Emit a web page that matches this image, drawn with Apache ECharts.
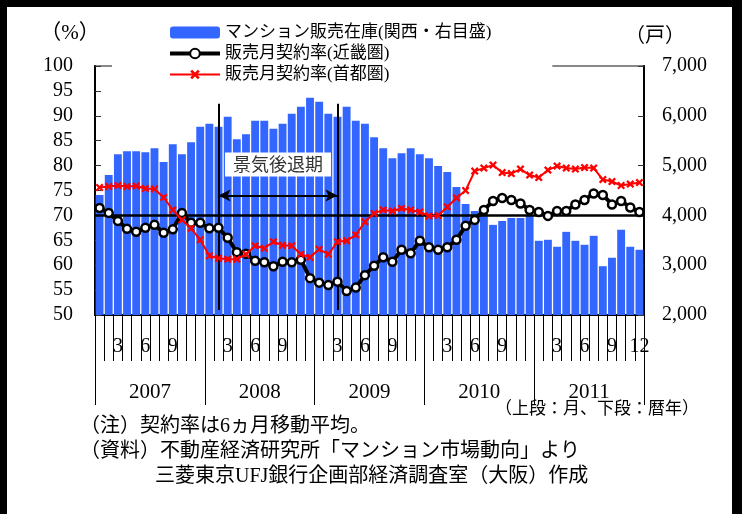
<!DOCTYPE html>
<html>
<head>
<meta charset="utf-8">
<script src="https://cdn.jsdelivr.net/npm/echarts@6.0.0/dist/echarts.min.js"></script>
<style>
    html, body { margin: 0; padding: 0; background: #fff; }
    #chart { width: 742px; height: 514px; background: #fff; }
</style>
</head>
<body>
<div id="chart"></div>
<script>
// 暦年（下段）
var years = ['2007', '2008', '2009', '2010', '2011'];
// 月（上段）
var monthLabels = [
    '', '', '3', '', '', '6', '', '', '9', '', '', '',
    '', '', '3', '', '', '6', '', '', '9', '', '', '',
    '', '', '3', '', '', '6', '', '', '9', '', '', '',
    '', '', '3', '', '', '6', '', '', '9', '', '', '',
    '', '', '3', '', '', '6', '', '', '9', '', '', '12'
];
// マンション販売在庫（関西・戸）
var stock = [
    4410, 4810, 5230, 5290, 5290, 5270, 5350, 5070, 5430, 5230, 5470, 5780,
    5840, 5780, 5980, 5530, 5630, 5900, 5900, 5740, 5840, 6040, 6180, 6360,
    6280, 6040, 5980, 6180, 5900, 5840, 5570, 5350, 5150, 5250, 5350, 5230,
    5150, 4990, 4870, 4570, 4230, 4090, 4050, 3810, 3890, 3950, 3950, 4000,
    3490, 3510, 3370, 3670, 3490, 3410, 3590, 2980, 3150, 3710, 3370, 3310
];
// 販売月契約率（近畿圏・%）
var kinki = [
    71.5, 70.5, 68.9, 67.3, 66.7, 67.5, 68.1, 66.5, 67.2, 70.5, 68.5, 68.5,
    67.4, 67.5, 65.5, 62.6, 62.3, 60.9, 60.6, 59.8, 60.7, 60.6, 61.1, 57.4,
    56.5, 56.0, 56.7, 54.8, 55.5, 58.0, 59.9, 61.6, 60.7, 63.1, 62.4, 64.9,
    63.6, 63.1, 63.6, 65.1, 67.9, 69.1, 71.1, 72.9, 73.5, 73.1, 72.4, 71.1,
    70.7, 69.9, 70.9, 70.9, 72.2, 73.1, 74.4, 74.1, 72.2, 72.9, 71.6, 70.7
];
// 販売月契約率（首都圏・%）
var shutoken = [
    75.6, 75.8, 76.0, 75.8, 75.9, 75.4, 75.3, 73.6, 71.1, 69.1, 67.4, 65.1,
    61.9, 61.4, 61.2, 61.2, 62.2, 63.9, 63.4, 64.7, 64.0, 63.9, 62.2, 61.6,
    63.2, 62.2, 64.7, 64.9, 66.1, 68.7, 70.4, 71.1, 70.9, 71.4, 71.1, 70.7,
    69.9, 70.0, 71.7, 73.5, 75.0, 78.9, 79.5, 80.1, 78.6, 78.4, 79.3, 78.1,
    77.6, 79.1, 79.9, 79.5, 79.3, 79.6, 79.5, 77.2, 76.8, 76.0, 76.3, 76.6
];
// 景気後退期（月の番号：2008年2月〜2009年3月）
var recession = [13, 26];
var recessionSpan = [51, 92.4];   // 縦線の上下（左目盛）
var arrowLevel = 74;
var baseLine = 70;

var SERIF = "'Liberation Serif', 'Noto Sans CJK JP', serif";
var CJK = "'Noto Sans CJK JP', sans-serif";
var X_MARK = 'path://M0,2L2,0L5,3L8,0L10,2L7,5L10,8L8,10L5,7L2,10L0,8L3,5Z';

// カテゴリ（年-月）
var months = monthLabels.map(function(m, i) {
    return years[Math.floor(i / 12)] + '-' + (i % 12 + 1);
});

var option = {
    animation: false,
    backgroundColor: '#fff',
    textStyle: { fontFamily: SERIF },
    grid: {
        left: 95, right: 98, top: 66, bottom: 199,
        show: true, borderColor: '#888', borderWidth: 2,
        outerBoundsMode: 'none'
    },
    legend: {
        data: [
            { name: 'マンション販売在庫(関西・右目盛)' },
            { name: '販売月契約率(近畿圏)', lineStyle: { width: 4 } },
            { name: '販売月契約率(首都圏)', lineStyle: { width: 2 } }
        ],
        orient: 'vertical',
        left: 112, top: 20,
        padding: [4, 61, 2, 56],
        itemGap: 4, itemWidth: 50, itemHeight: 12,
        backgroundColor: '#fff',
        selectedMode: false,
        textStyle: { fontSize: 17, color: '#000', fontFamily: SERIF, lineHeight: 16 }
    },
    xAxis: [{
        type: 'category',
        data: months,
        position: 'bottom',
        axisLine: { show: true, onZero: false, lineStyle: { color: '#000', width: 2 } },
        axisTick: { show: true, interval: 0, length: 46, lineStyle: { color: '#000', width: 1 } },
        axisLabel: {
            interval: 0, margin: 22, fontSize: 20, color: '#000',
            formatter: function(v, i) { return monthLabels[i]; }
        }
    }, {
        type: 'category',
        data: years,
        position: 'bottom',
        axisLine: { show: true, onZero: false, lineStyle: { color: '#000', width: 2 } },
        axisTick: { show: true, interval: 0, length: 90, lineStyle: { color: '#000', width: 1 } },
        axisLabel: { interval: 0, margin: 67, fontSize: 21, color: '#000' }
    }],
    yAxis: [{
        type: 'value', min: 50, max: 100, interval: 5, position: 'left',
        name: '（%）', nameLocation: 'end', nameGap: 22,
        nameTextStyle: { fontSize: 21, color: '#000', fontFamily: SERIF, padding: [0, 50, 0, 0] },
        axisLine: { show: true, lineStyle: { color: '#000', width: 2 } },
        axisTick: { show: true, inside: true, length: 6, lineStyle: { color: '#333' } },
        axisLabel: { fontSize: 20, color: '#000', margin: 22 },
        splitLine: { show: false }
    }, {
        type: 'value', min: 2000, max: 7000, interval: 1000, position: 'right',
        name: '（戸）', nameLocation: 'end', nameGap: 22,
        nameTextStyle: { fontSize: 20, color: '#000', fontFamily: CJK, padding: [0, 0, 0, 22] },
        axisLine: { show: true, lineStyle: { color: '#000', width: 2 } },
        axisTick: { show: true, inside: true, length: 6, lineStyle: { color: '#333' } },
        axisLabel: {
            fontSize: 20, color: '#000', margin: 18,
            formatter: function(v) { return v.toLocaleString('en-US'); }
        },
        splitLine: { show: false }
    }],
    series: [{
        name: 'マンション販売在庫(関西・右目盛)',
        type: 'bar',
        xAxisIndex: 0, yAxisIndex: 1,
        data: stock,
        barCategoryGap: '14%',
        itemStyle: { color: '#3366FF' },
        z: 2
    }, {
        // 70%線・景気後退期
        name: 'marks',
        type: 'line',
        xAxisIndex: 0, yAxisIndex: 0,
        data: [],
        z: 3,
        markLine: {
            silent: true,
            z: 3,
            symbol: ['none', 'none'],
            label: { show: false },
            lineStyle: { color: '#000', width: 2, type: 'solid' },
            data: [
                { yAxis: baseLine, lineStyle: { color: '#000', width: 2.5 } },
                [{ coord: [recession[0], recessionSpan[0]] }, { coord: [recession[0], recessionSpan[1]] }],
                [{ coord: [recession[1], recessionSpan[0]] }, { coord: [recession[1], recessionSpan[1]] }],
                [{
                    name: '景気後退期',
                    coord: [recession[0], arrowLevel],
                    symbol: 'arrow', symbolSize: [9, 12],
                    label: {
                        show: true, position: 'middle', distance: 19,
                        formatter: '{b}', fontSize: 18, fontFamily: CJK, color: '#333',
                        backgroundColor: '#fff', padding: [3, 8]
                    }
                }, {
                    coord: [recession[1], arrowLevel],
                    symbol: 'arrow', symbolSize: [9, 12]
                }]
            ]
        }
    }, {
        name: '販売月契約率(近畿圏)',
        type: 'line',
        xAxisIndex: 0, yAxisIndex: 0,
        data: kinki,
        symbol: 'circle', symbolSize: 8,
        lineStyle: { color: '#000', width: 4 },
        itemStyle: { color: '#fff', borderColor: '#000', borderWidth: 2.5 },
        z: 4
    }, {
        name: '販売月契約率(首都圏)',
        type: 'line',
        xAxisIndex: 0, yAxisIndex: 0,
        data: shutoken,
        symbol: X_MARK, symbolSize: 8,
        lineStyle: { color: '#FF0000', width: 2 },
        itemStyle: { color: '#FF0000' },
        z: 5
    }],
    graphic: [
        // 外枠
        { type: 'rect', left: 0, top: 0, z: 100, shape: { width: 7, height: 514 }, style: { fill: '#000' } },
        { type: 'rect', left: 0, top: 0, z: 100, shape: { width: 742, height: 7 }, style: { fill: '#000' } },
        { type: 'rect', right: 0, top: 0, z: 100, shape: { width: 10, height: 514 }, style: { fill: '#000' } },
        // 注記
        { type: 'text', left: 495, top: 401, style: { text: '（上段：月、下段：暦年）', font: '17px ' + SERIF, fill: '#000' } },
        { type: 'text', left: 80, top: 417, style: { text: '（注）契約率は6ヵ月移動平均。', font: '20px ' + SERIF, fill: '#000' } },
        { type: 'text', left: 80, top: 442, style: { text: '（資料）不動産経済研究所「マンション市場動向」より', font: '20px ' + SERIF, fill: '#000' } },
        { type: 'text', left: 155, top: 467, style: { text: '三菱東京UFJ銀行企画部経済調査室（大阪）作成', font: '20px ' + SERIF, fill: '#000' } }
    ]
};

var chart = echarts.init(document.getElementById('chart'));
chart.setOption(option);
</script>
</body>
</html>
